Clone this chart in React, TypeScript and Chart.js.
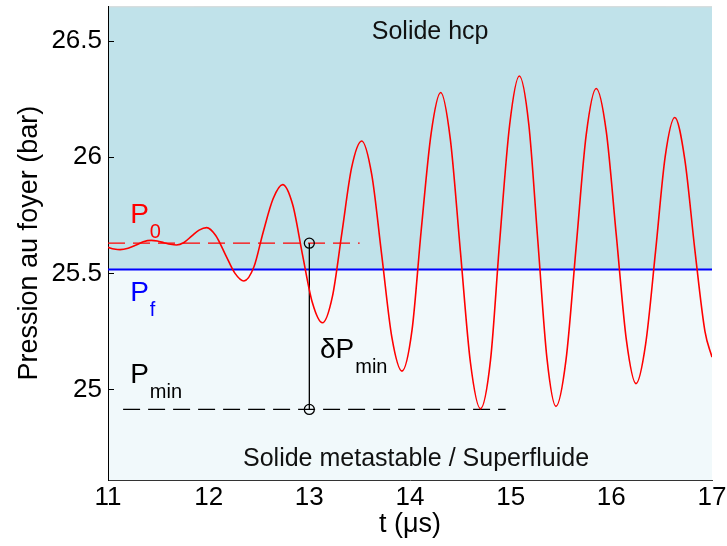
import React, { useEffect, useRef } from "react";
import { Chart, registerables } from "chart.js";

Chart.register(...registerables);

// ---- data ----
const timeUs = [
  11.0, 11.06, 11.12, 11.2, 11.28, 11.35, 11.43, 11.49, 11.555, 11.62,
  11.68, 11.755, 11.83, 11.905, 11.98, 12.07, 12.165, 12.26, 12.35, 12.45,
  12.54, 12.64, 12.735, 12.835, 12.93, 13.03, 13.13, 13.23, 13.325, 13.42,
  13.52, 13.62, 13.72, 13.82, 13.92, 14.02, 14.11, 14.21, 14.305, 14.4,
  14.5, 14.6, 14.7, 14.8, 14.89, 14.99, 15.086, 15.18, 15.27, 15.36,
  15.45, 15.55, 15.65, 15.75, 15.85, 15.95, 16.05, 16.15, 16.245, 16.34,
  16.44, 16.535, 16.63, 16.73, 16.83, 16.93, 17.0,
];
const pressureBar = [
  25.612, 25.605, 25.602, 25.608, 25.622, 25.636, 25.642, 25.639, 25.632, 25.625,
  25.622, 25.633, 25.66, 25.686, 25.697, 25.663, 25.582, 25.501, 25.467, 25.528,
  25.675, 25.821, 25.882, 25.795, 25.585, 25.374, 25.287, 25.402, 25.679, 25.955,
  26.07, 25.925, 25.575, 25.224, 25.079, 25.255, 25.679, 26.103, 26.279, 26.08,
  25.598, 25.117, 24.917, 25.127, 25.634, 26.14, 26.35, 26.142, 25.639, 25.136,
  24.927, 25.128, 25.612, 26.095, 26.296, 26.11, 25.661, 25.211, 25.025, 25.193,
  25.598, 26.003, 26.171, 25.99, 25.6, 25.25, 25.139,
];
const xTicks = [11, 12, 13, 14, 15, 16, 17];
const yTicks = [25, 25.5, 26, 26.5];
const P0 = 25.63;
const Pf = 25.517;
const Pmin = 24.914;
const tMeasure = 13.0;
const p0Span = [11.0, 13.5];
const pminSpan = [11.15, 14.95];
const xRange = [11, 17];
const yRange = [24.61, 26.65];

const FONT = "'Liberation Sans', Arial, Helvetica, sans-serif";
const UPPER = "#c0e2ea";
const LOWER = "#f1f9fb";

function drawSub(ctx: CanvasRenderingContext2D, main: string, sub: string, x: number, y: number, color: string) {
  ctx.fillStyle = color;
  ctx.textAlign = "left";
  ctx.textBaseline = "alphabetic";
  ctx.font = `28px ${FONT}`;
  ctx.fillText(main, x, y);
  const w = ctx.measureText(main).width;
  ctx.font = `20px ${FONT}`;
  ctx.fillText(sub, x + w + 1, y + 15);
}

const decorPlugin = {
  id: "decor",
  beforeDraw(chart: any) {
    const { ctx, chartArea: a, scales } = chart;
    const yf = scales.y.getPixelForValue(Pf);
    ctx.save();
    ctx.fillStyle = UPPER;
    ctx.fillRect(a.left, a.top, a.right - a.left, yf - a.top);
    ctx.fillStyle = LOWER;
    ctx.fillRect(a.left, yf, a.right - a.left, a.bottom - yf);
    ctx.strokeStyle = "#d8d8d8";
    ctx.lineWidth = 1;
    ctx.beginPath();
    ctx.moveTo(a.left, a.top + 0.5);
    ctx.lineTo(a.right, a.top + 0.5);
    ctx.stroke();
    ctx.restore();
  },
  afterDatasetsDraw(chart: any) {
    const { ctx, chartArea: a, scales } = chart;
    const X = (v: number) => scales.x.getPixelForValue(v);
    const Y = (v: number) => scales.y.getPixelForValue(v);
    ctx.save();
    // inward y tick marks
    ctx.strokeStyle = "#000";
    ctx.lineWidth = 1;
    for (const v of yTicks) {
      const y = Math.round(Y(v)) + 0.5;
      ctx.beginPath();
      ctx.moveTo(a.left, y);
      ctx.lineTo(a.left + 6, y);
      ctx.stroke();
    }
    ctx.fillStyle = "#111";
    ctx.font = `25px ${FONT}`;
    ctx.textAlign = "center";
    ctx.textBaseline = "middle";
    ctx.fillText("Solide hcp", X(14.2), Y(26.539));
    ctx.fillText("Solide metastable / Superfluide", X(14.06), Y(24.698));
    drawSub(ctx, "P", "0", X(11.22), Y(25.715), "#ff0000");
    drawSub(ctx, "P", "f", X(11.22), Y(25.38), "#0000ff");
    drawSub(ctx, "P", "min", X(11.22), Y(25.026), "#000000");
    drawSub(ctx, "\u03b4P", "min", X(13.106), Y(25.134), "#000000");
    ctx.restore();
  },
};

export default function App() {
  const ref = useRef<HTMLCanvasElement | null>(null);
  useEffect(() => {
    if (!ref.current) return;
    const curve = timeUs.map((t, i) => ({ x: t, y: pressureBar[i] }));
    const chart = new Chart(ref.current, {
      type: "line",
      data: {
        datasets: [
          {
            data: curve,
            borderColor: "#ff0000",
            borderWidth: 1.6,
            pointRadius: 0,
            cubicInterpolationMode: "monotone",
          },
          {
            data: [
              { x: tMeasure, y: P0 },
              { x: tMeasure, y: Pmin },
            ],
            borderColor: "#000000",
            borderWidth: 1.3,
            pointRadius: 5,
            pointBorderWidth: 1.3,
            pointBorderColor: "#000000",
            pointBackgroundColor: "rgba(0,0,0,0)",
            clip: false as any,
          },
          {
            data: [
              { x: p0Span[0], y: P0 },
              { x: p0Span[1], y: P0 },
            ],
            borderColor: "#ff0000",
            borderWidth: 1.3,
            borderDash: [17, 8],
            pointRadius: 0,
          },
          {
            data: [
              { x: pminSpan[0], y: Pmin },
              { x: pminSpan[1], y: Pmin },
            ],
            borderColor: "#000000",
            borderWidth: 1.3,
            borderDash: [17, 8],
            pointRadius: 0,
          },
          {
            data: [
              { x: xRange[0], y: Pf },
              { x: xRange[1], y: Pf },
            ],
            borderColor: "#0000ff",
            borderWidth: 2,
            pointRadius: 0,
          },
        ],
      },
      options: {
        responsive: false,
        animation: false,
        devicePixelRatio: 1,
        layout: { padding: { left: 0, right: 15, top: 6, bottom: 0 } },
        plugins: { legend: { display: false }, tooltip: { enabled: false } },
        scales: {
          x: {
            type: "linear",
            min: xRange[0],
            max: xRange[1],
            grid: { display: false, drawTicks: false },
            border: { display: true, color: "#333", width: 1 },
            afterBuildTicks: (s: any) => {
              s.ticks = xTicks.map((v) => ({ value: v }));
            },
            afterFit: (s: any) => {
              s.height = 66;
              s.paddingLeft = 0;
              s.paddingRight = 0;
            },
            ticks: {
              color: "#000",
              padding: 2,
              maxRotation: 0,
              autoSkip: false,
              font: { family: FONT, size: 26 },
              callback: (v: any) => String(v),
            },
            title: {
              display: true,
              text: "t (\u03bcs)",
              color: "#000",
              font: { family: FONT, size: 27 },
              padding: { top: 0, bottom: 5 },
            },
          },
          y: {
            type: "linear",
            min: yRange[0],
            max: yRange[1],
            grid: { display: false, drawTicks: false },
            border: { display: true, color: "#000", width: 1 },
            afterBuildTicks: (s: any) => {
              s.ticks = yTicks.map((v) => ({ value: v }));
            },
            afterFit: (s: any) => {
              s.width = 108;
              s.paddingTop = 0;
              s.paddingBottom = 0;
            },
            ticks: {
              color: "#000",
              padding: 6,
              autoSkip: false,
              font: { family: FONT, size: 26 },
              callback: (v: any) => String(v),
            },
            title: {
              display: true,
              text: "Pression au foyer (bar)",
              color: "#000",
              font: { family: FONT, size: 27 },
              padding: { top: 13, bottom: 0 },
            },
          },
        },
      },
      plugins: [decorPlugin],
    } as any);
    return () => chart.destroy();
  }, []);
  return (
    <div style={{ position: "fixed", left: 0, top: 0, width: 727, height: 546, background: "#fff" }}>
      <canvas ref={ref} width={727} height={546} style={{ display: "block" }} />
    </div>
  );
}
